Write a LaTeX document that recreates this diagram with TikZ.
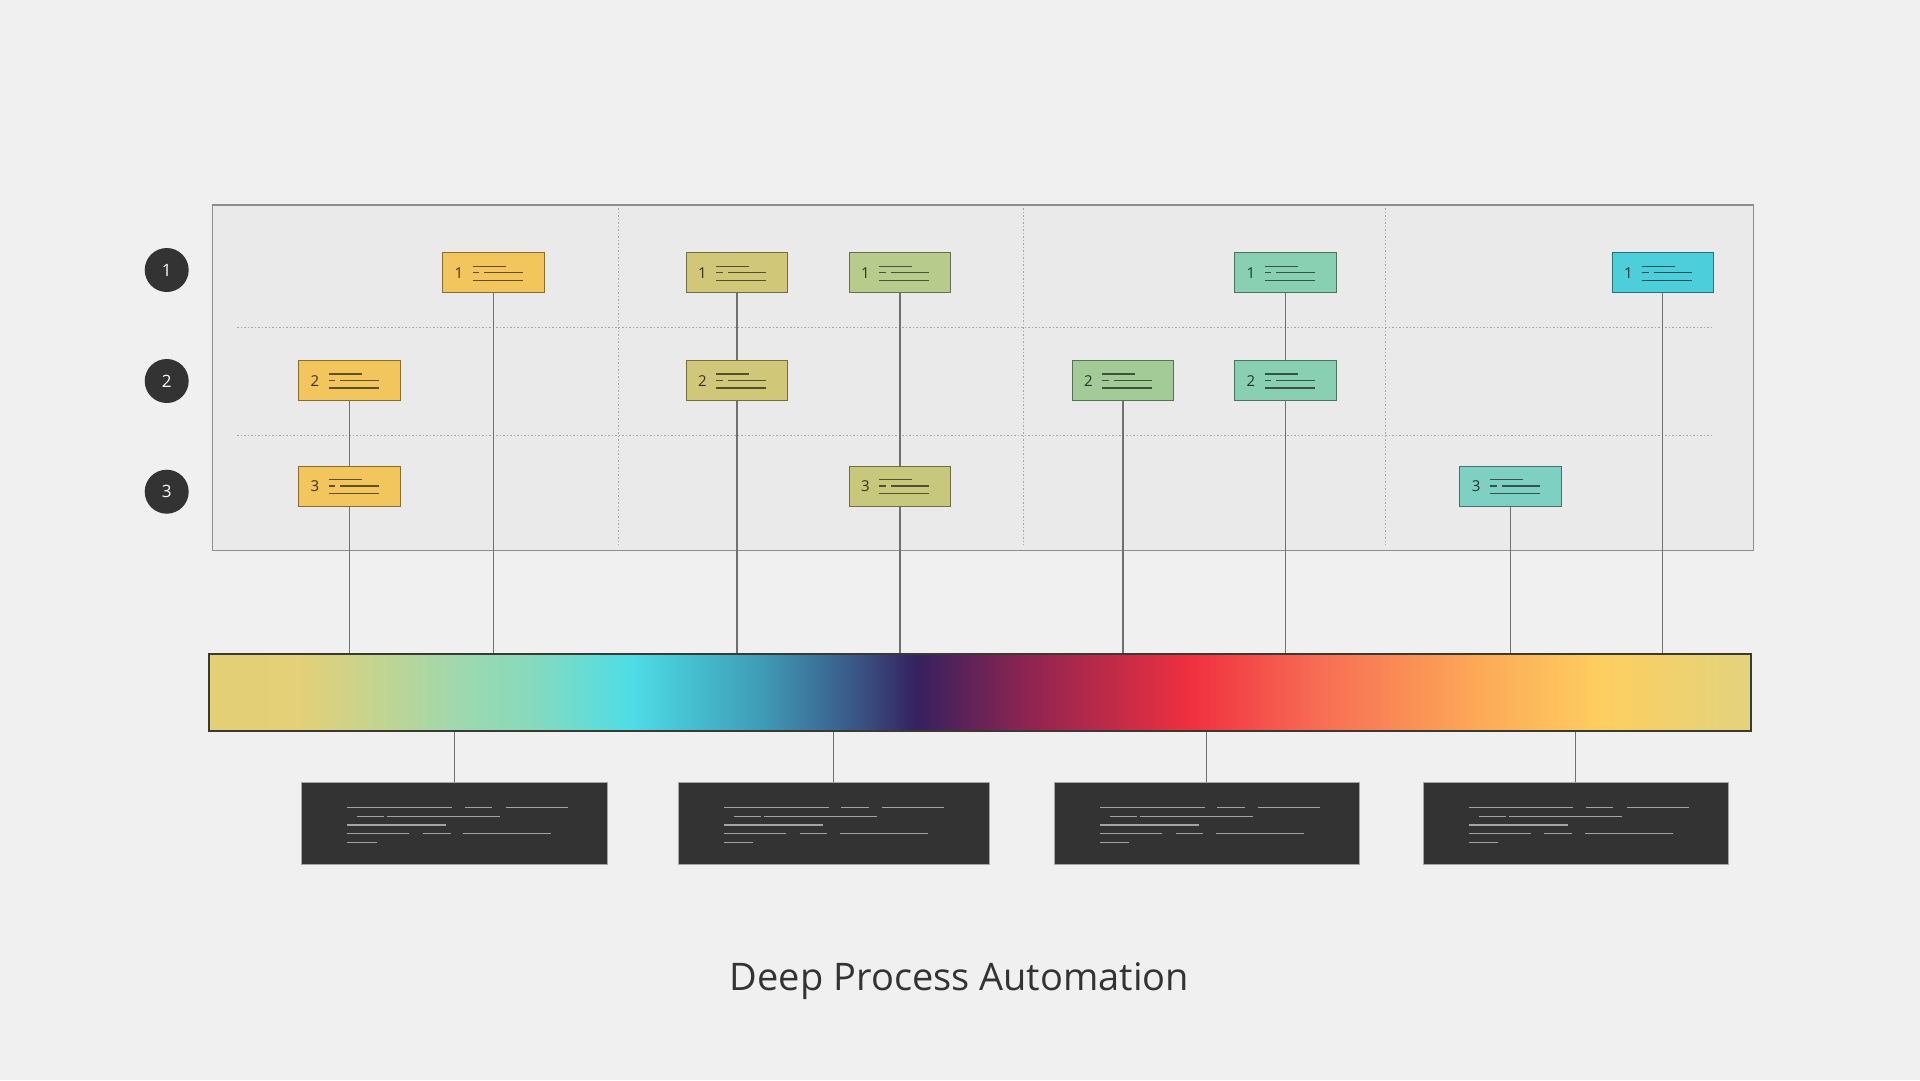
\documentclass[tikz,border=0pt]{standalone}
\usepackage{fontspec}
\setmainfont{Open Sans}
\usepackage{xcolor}
\usepackage{tikz}
\usetikzlibrary{arrows.meta}
\usetikzlibrary{calc}

\definecolor{pagebg}{HTML}{F0F0F0}
\definecolor{framefill}{HTML}{EAEAEA}
\definecolor{framecol}{HTML}{8E8E8E}
\definecolor{ink}{HTML}{333333}
\definecolor{wirecol}{HTML}{707070}
\definecolor{barline}{HTML}{3A3A32}
\definecolor{ghost}{HTML}{A4A4A4}
\definecolor{cYellow}{HTML}{F2C65C}
\definecolor{cOlive}{HTML}{D0C878}
\definecolor{cOliveB}{HTML}{C8C87C}
\definecolor{cSage}{HTML}{B6CB8C}
\definecolor{cMint}{HTML}{A2CB98}
\definecolor{cTeal}{HTML}{89D0B3}
\definecolor{cAqua}{HTML}{7DD0C2}
\definecolor{cCyan}{HTML}{4DCFDB}
\definecolor{s00}{HTML}{E3CF74}
\definecolor{s01}{HTML}{E3D078}
\definecolor{s02}{HTML}{BDD594}
\definecolor{s03}{HTML}{A2D8AC}
\definecolor{s04}{HTML}{86DABD}
\definecolor{s05}{HTML}{4EDDE7}
\definecolor{s06}{HTML}{3E9CB6}
\definecolor{s07}{HTML}{3A5283}
\definecolor{s08}{HTML}{35215F}
\definecolor{s09}{HTML}{8A2452}
\definecolor{s10}{HTML}{F0303F}
\definecolor{s11}{HTML}{F76E55}
\definecolor{s12}{HTML}{FDAA57}
\definecolor{s13}{HTML}{FECE60}
\definecolor{s14}{HTML}{E2D37E}

\pgfdeclarehorizontalshading{spectrum}{100bp}{color(0bp)=(s00); color(25bp)=(s00);
  color(27.98bp)=(s01); color(30.9bp)=(s02); color(32.85bp)=(s03); color(35.44bp)=(s04);
  color(38.68bp)=(s05); color(42.9bp)=(s06); color(46.14bp)=(s07); color(47.93bp)=(s08);
  color(51.33bp)=(s09); color(56.84bp)=(s10); color(61.06bp)=(s11); color(66.25bp)=(s12);
  color(70.14bp)=(s13); color(75bp)=(s14); color(100bp)=(s14)}

\begin{document}
\begin{tikzpicture}[x=1pt, y=-1pt,
  every node/.style={align=center, font=\fontsize{15}{18}\selectfont},
  card/.style={draw=#1!55!black, fill=#1, line width=1pt, text width=77.6pt, inner xsep=12pt,
    inner ysep=0pt, minimum height=40pt, align=left, text=#1!25!black,
    path picture={
      \coordinate (nw) at (path picture bounding box.north west);
      \draw[#1!40!black, line width=1.1pt]
        ($(nw)+(30pt,-13.3pt)$) -- ++(33pt,0pt)
        ($(nw)+(30pt,-20pt)$) -- ++(6.7pt,0pt)
        ($(nw)+(41.7pt,-20pt)$) -- ++(38.3pt,0pt)
        ($(nw)+(30pt,-27.3pt)$) -- ++(50pt,0pt);}},
  darkbox/.style={draw=gray!70, fill=ink, line width=0.8pt, minimum height=81.6pt, inner sep=0pt,
    path picture={
      \coordinate (nw) at (path picture bounding box.north west);
      \draw[ghost, line width=1.4pt]
        ($(nw)+(45.7pt,-25pt)$) -- ++(104.6pt,0pt)
        ($(nw)+(163pt,-25pt)$) -- ++(27.3pt,0pt)
        ($(nw)+(204pt,-25pt)$) -- ++(62pt,0pt)
        ($(nw)+(55.7pt,-33.7pt)$) -- ++(27pt,0pt)
        ($(nw)+(85.7pt,-33.7pt)$) -- ++(113pt,0pt)
        ($(nw)+(45.7pt,-42.3pt)$) -- ++(99pt,0pt)
        ($(nw)+(45.7pt,-51pt)$) -- ++(62pt,0pt)
        ($(nw)+(121.3pt,-51pt)$) -- ++(27.7pt,0pt)
        ($(nw)+(161.7pt,-51pt)$) -- ++(88pt,0pt)
        ($(nw)+(45.7pt,-59.7pt)$) -- ++(29.3pt,0pt);}},
  rowmark/.style={circle, fill=ink, text=white, minimum size=44pt, inner sep=0pt, font=\fontsize{17}{20}\selectfont},
  wire/.style={draw=wirecol, line width=1.1pt},
  dotgrid/.style={draw=gray!70, line width=1pt, dash pattern=on 1.6pt off 1.9pt}
]
\useasboundingbox (0,0) rectangle (1920,1080);
\fill[pagebg] (0,0) rectangle (1920,1080);

\node[draw=framecol, fill=framefill, line width=1.3pt, minimum width=1541pt, minimum height=345.7pt, inner sep=0pt, anchor=north west] (frame) at (211.7,204.3) {};
\draw[dotgrid] (237.3,327.7) -- (1713.3,327.7);
\draw[dotgrid] (237.3,435) -- (1713.3,435);
\draw[dotgrid] (618.3,208) -- (618.3,545);
\draw[dotgrid] (1023.7,208) -- (1023.7,545);
\draw[dotgrid] (1385.3,208) -- (1385.3,545);

\node[rowmark] (r1) at (166.7,270) {1};
\node[rowmark] (r2) at (166.7,381) {2};
\node[rowmark] (r3) at (166.7,491.7) {3};

\node[draw=barline, line width=1.5pt, shade, shading=spectrum, minimum width=1542pt, minimum height=76.7pt, inner sep=0pt, anchor=north west] (bar) at (208.2,653.3) {};

\node[card=cYellow] (c1b) at (349.5,380.7) {2};
\node[card=cYellow] (c1c) at (349.5,486) {3};
\node[card=cYellow] (c2a) at (493.5,272.8) {1};
\node[card=cOlive] (c3a) at (737,272.8) {1};
\node[card=cOlive] (c3b) at (737,380.7) {2};
\node[card=cSage] (c4a) at (900,272.8) {1};
\node[card=cOliveB] (c4c) at (900,486) {3};
\node[card=cMint] (c5b) at (1123,380.7) {2};
\node[card=cTeal] (c6a) at (1285.3,272.8) {1};
\node[card=cTeal] (c6b) at (1285.3,380.7) {2};
\node[card=cAqua] (c7c) at (1510.6,486) {3};
\node[card=cCyan] (c8a) at (1662.8,272.8) {1};

\draw[wire] (c1b) -- (c1c);
\draw[wire] (c1c) -- (c1c |- bar.north);
\draw[wire] (c2a) -- (c2a |- bar.north);
\draw[wire] (c3a) -- (c3b);
\draw[wire] (c3b) -- (c3b |- bar.north);
\draw[wire] (c4a) -- (c4c);
\draw[wire] (c4c) -- (c4c |- bar.north);
\draw[wire] (c5b) -- (c5b |- bar.north);
\draw[wire] (c6a) -- (c6b);
\draw[wire] (c6b) -- (c6b |- bar.north);
\draw[wire] (c7c) -- (c7c |- bar.north);
\draw[wire] (c8a) -- (c8a |- bar.north);

\node[darkbox, minimum width=306pt] (d1) at (454.5,823.5) {};
\node[darkbox, minimum width=311pt] (d2) at (833.9,823.5) {};
\node[darkbox, minimum width=305pt] (d3) at (1206.8,823.5) {};
\node[darkbox, minimum width=305pt] (d4) at (1575.4,823.5) {};

\draw[wire] (d1 |- bar.south) -- (d1);
\draw[wire] (d2 |- bar.south) -- (d2);
\draw[wire] (d3 |- bar.south) -- (d3);
\draw[wire] (d4 |- bar.south) -- (d4);

\node[text=ink, font=\fontsize{38}{45}\selectfont] (title) at (959.5,981) {Deep Process Automation};
\end{tikzpicture}
\end{document}
